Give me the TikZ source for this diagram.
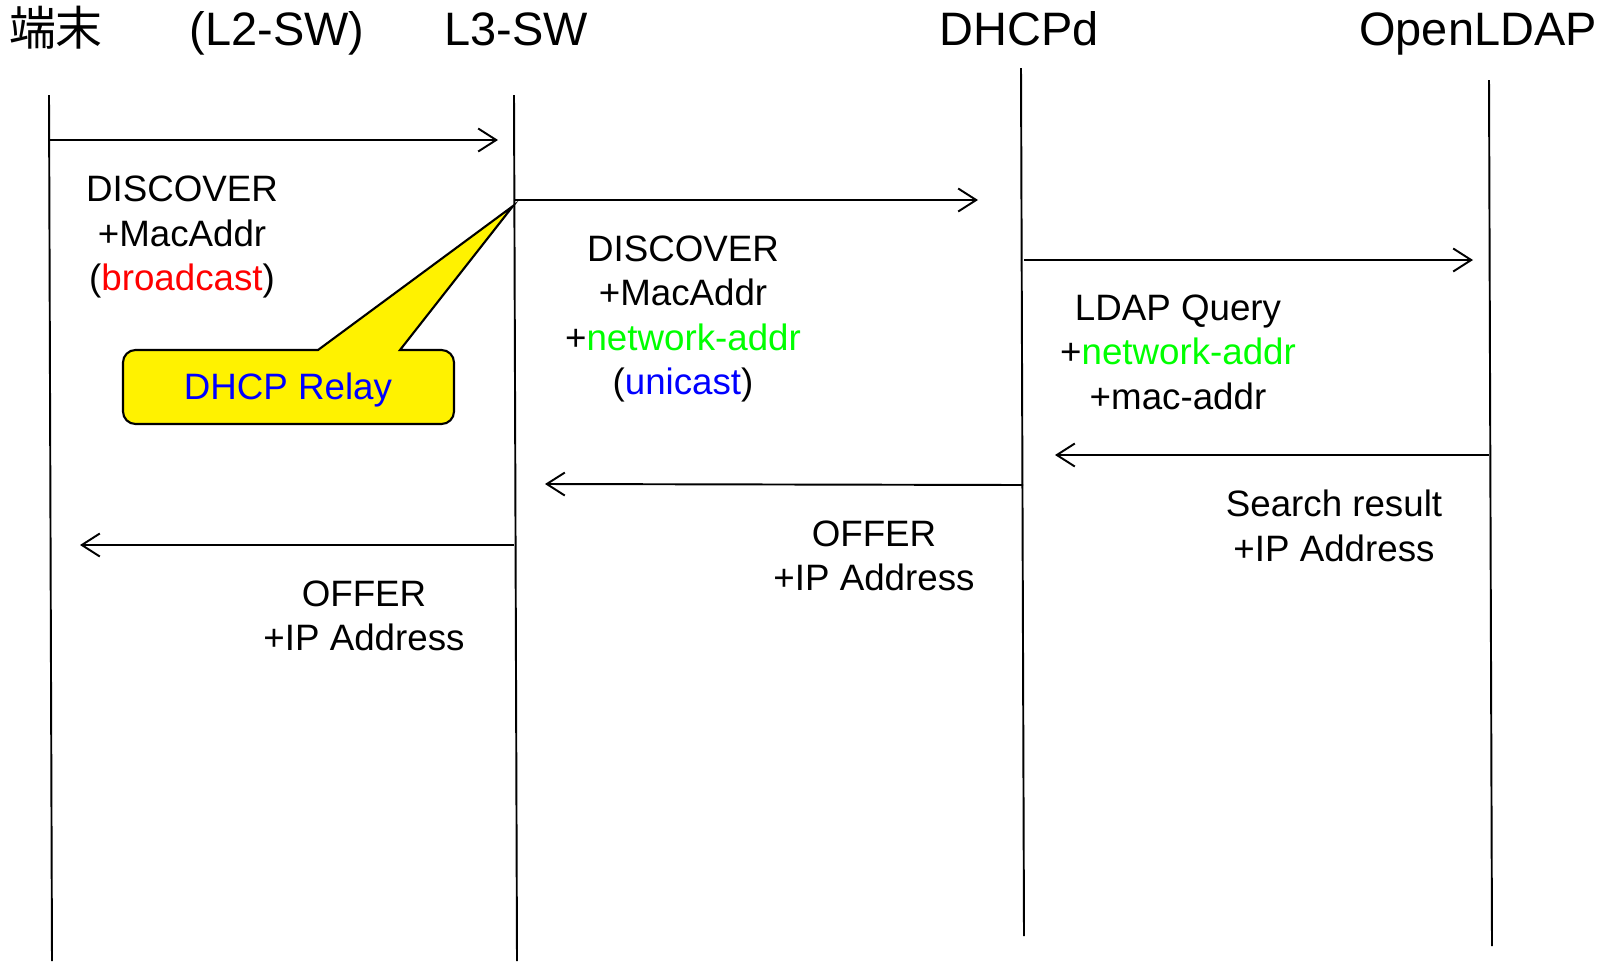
\documentclass[tikz,border=0pt]{standalone}
\usepackage{fontspec}
\setmainfont{Liberation Sans}
\newfontfamily\jpfont{Noto Sans CJK JP}
\usetikzlibrary{arrows.meta}

\begin{document}
\begin{tikzpicture}[x=0.02cm,y=-0.02cm,
    msg/.style={-{Straight Barb[length=0.36cm,width=0.46cm]},line width=1.1pt},
    life/.style={line width=1.1pt},
    head/.style={font=\fontsize{26.7pt}{32pt}\selectfont,anchor=base},
    note/.style={font=\fontsize{20.9pt}{25.4pt}\selectfont,align=center}]
    \useasboundingbox (0,0) rectangle (1609,961);
    %lifelines
    \coordinate (term top) at (49,95);
    \coordinate (term bot) at (52,961);
    \coordinate (l3 top) at (514,95);
    \coordinate (l3 bot) at (517,961);
    \coordinate (dhcp top) at (1021,68);
    \coordinate (dhcp bot) at (1024,936);
    \coordinate (ldap top) at (1489,80);
    \coordinate (ldap bot) at (1492,946);
    \draw[life] (term top) -- (term bot);
    \draw[life] (l3 top) -- (l3 bot);
    \draw[life] (dhcp top) -- (dhcp bot);
    \draw[life] (ldap top) -- (ldap bot);
    %headers
    \node[head] (term) at (56,45) {\jpfont 端末};
    \node[head] (l2sw) at (277,45) {(L2-SW)};
    \node[head] (l3sw) at (516,45) {L3-SW};
    \node[head] (dhcpd) at (1019,45) {DHCPd};
    \node[head] (openldap) at (1478,45) {OpenLDAP};
    %DISCOVER
    \coordinate (disc1 a) at (49,140);
    \coordinate (disc1 b) at (498,140);
    \draw[msg] (disc1 a) -- (disc1 b);
    \node[note] (disc1) at (182,237) {DISCOVER\\+MacAddr\\(\textcolor{red}{broadcast})};
    \coordinate (disc2 a) at (514,200);
    \coordinate (disc2 b) at (978,200);
    \draw[msg] (disc2 a) -- (disc2 b);
    \node[note] (disc2) at (683,319) {DISCOVER\\+MacAddr\\+\textcolor{green}{network-addr}\\(\textcolor{blue}{unicast})};
    %LDAP
    \coordinate (query a) at (1024,260);
    \coordinate (query b) at (1473,260);
    \draw[msg] (query a) -- (query b);
    \node[note] (query) at (1178,352) {LDAP Query\\+\textcolor{green}{network-addr}\\+mac-addr};
    \coordinate (result a) at (1489,455);
    \coordinate (result b) at (1055,455);
    \draw[msg] (result a) -- (result b);
    \node[note] (result) at (1334,526) {Search result\\+IP Address};
    %OFFER
    \coordinate (offer2 a) at (1023,485);
    \coordinate (offer2 b) at (545,484);
    \draw[msg] (offer2 a) -- (offer2 b);
    \node[note] (offer2) at (874,556) {OFFER\\+IP Address};
    \coordinate (offer1 a) at (514,545);
    \coordinate (offer1 b) at (80,545);
    \draw[msg] (offer1 a) -- (offer1 b);
    \node[note] (offer1) at (364,616) {OFFER\\+IP Address};
    %relay
    \coordinate (relay tip) at (513,206);
    \draw[line width=1.2pt,fill=yellow] (relay tip) -- (400,350) [rounded corners=0.25cm] -- (454,350) -- (454,424) -- (123,424) -- (123,350) [sharp corners] -- (318,350) -- cycle;
    \node[note,text=blue] (relay) at (288,390) {DHCP Relay};
\end{tikzpicture}
\end{document}
